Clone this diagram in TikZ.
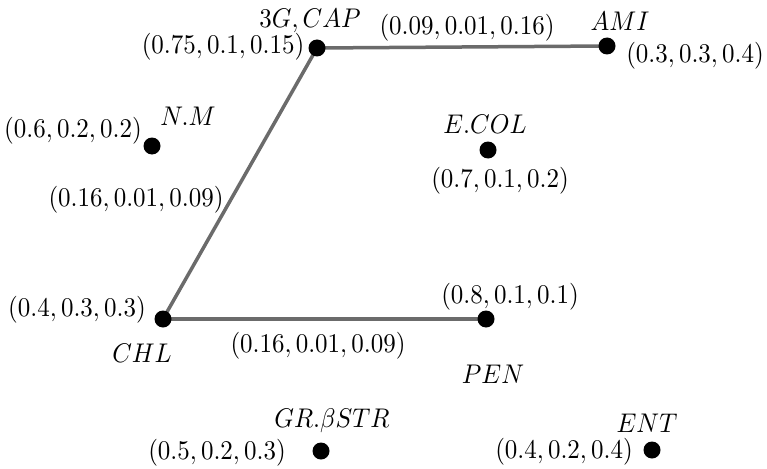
\documentclass[tikz,border=0pt]{standalone}
\usepackage{graphicx}
\newcommand{\lbtext}[1]{\scalebox{2.5}[2.7]{$#1$}}
\tikzset{
  dot/.style={circle, fill=black, inner sep=0pt, minimum size=17pt},
  link/.style={draw=black!58, line width=3.5pt},
  lbl/.style={inner sep=0pt, anchor=center},
}
\begin{document}
\begin{tikzpicture}[x=1pt, y=-1pt]
\useasboundingbox (0,0) rectangle (767,468);
% positions
\coordinate (cap) at (317,48);
\coordinate (ami) at (607,46);
\coordinate (nm) at (152,146);
\coordinate (ecol) at (488,150);
\coordinate (chl) at (163,319);
\coordinate (pen) at (486,319);
\coordinate (gr) at (321,451);
\coordinate (ent) at (652,450);
% connectors
\draw[link] (cap) -- (ami);
\draw[link] (cap) -- (chl);
\draw[link] (chl) -- (pen);
% dots
\foreach \p in {cap,ami,nm,ecol,chl,pen,gr,ent}{\node[dot] at (\p) {};}
% names
\node[lbl] (capn) at (310,21) {\lbtext{3G,CAP}};
\node[lbl] (amin) at (620,21) {\lbtext{AMI}};
\node[lbl] (nmn) at (188,116) {\lbtext{N.M}};
\node[lbl] (ecoln) at (485,124) {\lbtext{E.COL}};
\node[lbl] (chln) at (142,353) {\lbtext{CHL}};
\node[lbl] (penn) at (493,374) {\lbtext{PEN}};
\node[lbl] (grn) at (332,421) {\lbtext{GR.\beta STR}};
\node[lbl] (entn) at (647,423) {\lbtext{ENT}};
% values
\node[lbl] (capv) at (223,47) {\lbtext{(0.75,0.1,0.15)}};
\node[lbl] (amiv) at (695,56) {\lbtext{(0.3,0.3,0.4)}};
\node[lbl] (nmv) at (73,131) {\lbtext{(0.6,0.2,0.2)}};
\node[lbl] (ecolv) at (500,181) {\lbtext{(0.7,0.1,0.2)}};
\node[lbl] (chlv) at (77,310) {\lbtext{(0.4,0.3,0.3)}};
\node[lbl] (penv) at (510,297) {\lbtext{(0.8,0.1,0.1)}};
\node[lbl] (grv) at (217,453) {\lbtext{(0.5,0.2,0.3)}};
\node[lbl] (entv) at (564,452) {\lbtext{(0.4,0.2,0.4)}};
% edge labels
\node[lbl] (e1) at (467,28) {\lbtext{(0.09,0.01,0.16)}};
\node[lbl] (e2) at (136,200) {\lbtext{(0.16,0.01,0.09)}};
\node[lbl] (e3) at (318,346) {\lbtext{(0.16,0.01,0.09)}};
\end{tikzpicture}
\end{document}
